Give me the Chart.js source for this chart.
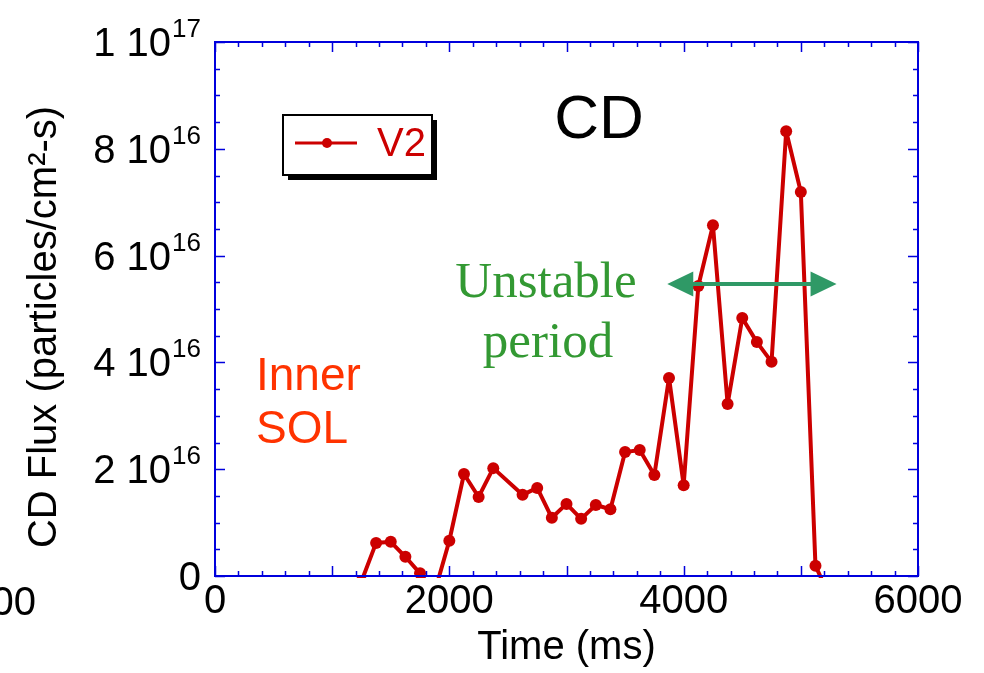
<!DOCTYPE html>
<html>
<head>
<meta charset="utf-8">
<script src="https://cdn.jsdelivr.net/npm/chart.js@4/dist/chart.umd.min.js"></script>
<style>
  html, body { margin: 0; padding: 0; background: #fff; }
  #wrap { width: 984px; height: 673px; }
</style>
</head>
<body>
<div id="wrap"><canvas id="chart" width="984" height="673"></canvas></div>
<script>
// ---- data ----
const timeMs = [1250, 1375, 1500, 1625, 1750, 1875, 2000, 2125, 2250, 2375,
  2625, 2750, 2875, 3000, 3125, 3250, 3375, 3500, 3625, 3750,
  3875, 4000, 4125, 4250, 4375, 4500, 4625, 4750, 4875, 5000, 5125, 5250];
const fluxV2 = [-1.0e15, 6.2e15, 6.4e15, 3.6e15, 0.5e15, -3.0e15, 6.6e15, 19.1e15, 14.8e15, 20.2e15,
  15.2e15, 16.5e15, 10.9e15, 13.5e15, 10.7e15, 13.3e15, 12.5e15, 23.2e15, 23.6e15, 18.9e15,
  37.1e15, 17.0e15, 54.3e15, 65.7e15, 32.2e15, 48.3e15, 43.8e15, 40.1e15, 83.3e15, 71.9e15, 1.9e15, -4.0e15];

const xTicks = [0, 2000, 4000, 6000];
const yTickValues = [0, 2e16, 4e16, 6e16, 8e16, 1e17];
const yTickMantissa = ['0', '2', '4', '6', '8', '1'];
const yTickExponent = ['', '16', '16', '16', '16', '17'];

const seriesLabel = 'V2';
const xTitle = 'Time (ms)';
const yTitle = 'CD Flux (particles/cm²-s)';
const panelTitle = 'CD';
const unstableLines = ['Unstable', 'period'];
const regionLines = ['Inner', 'SOL'];
const arrowFrom = 3860, arrowTo = 5305, arrowLevel = 5.47e16;

const RED = '#cc0000';
const BLUE = '#0000dd';
const SANS = '"Liberation Sans", Arial, Helvetica, sans-serif';
const SERIF = '"Liberation Serif", "Times New Roman", serif';

const points = timeMs.map((t, i) => ({ x: t, y: fluxV2[i] }));

const decor = {
  id: 'decor',
  afterDraw(chart) {
    const { ctx, chartArea: a, scales } = chart;
    const xs = scales.x, ys = scales.y;
    ctx.save();

    // inward ticks on all four sides
    ctx.strokeStyle = BLUE;
    ctx.lineWidth = 1.5;
    ctx.beginPath();
    for (let v = 0; v <= 6000; v += 200) {
      const px = Math.round(xs.getPixelForValue(v)) + 0.5;
      const len = v % 1000 === 0 ? 10 : 5;
      ctx.moveTo(px, a.bottom); ctx.lineTo(px, a.bottom - len);
      ctx.moveTo(px, a.top); ctx.lineTo(px, a.top + len);
    }
    for (let k = 0; k <= 20; k++) {
      const v = k * 5e15;
      const py = Math.round(ys.getPixelForValue(v)) + 0.5;
      const len = k % 4 === 0 ? 10 : 5;
      ctx.moveTo(a.left, py); ctx.lineTo(a.left + len, py);
      ctx.moveTo(a.right, py); ctx.lineTo(a.right - len, py);
    }
    ctx.stroke();

    // frame
    ctx.lineWidth = 2;
    ctx.strokeRect(a.left, a.top, a.right - a.left, a.bottom - a.top);

    // y tick labels with superscript exponents
    ctx.fillStyle = '#000';
    ctx.textBaseline = 'alphabetic';
    yTickValues.forEach((v, i) => {
      const py = ys.getPixelForValue(v);
      const right = a.left - 14;
      ctx.font = '26px ' + SANS;
      const ew = yTickExponent[i] ? ctx.measureText(yTickExponent[i]).width : 0;
      ctx.textAlign = 'right';
      if (yTickExponent[i]) ctx.fillText(yTickExponent[i], right, py - 5);
      ctx.font = '40px ' + SANS;
      const base = yTickExponent[i] ? yTickMantissa[i] + ' 10' : yTickMantissa[i];
      ctx.fillText(base, right - ew - (ew ? 1 : 0), py + 14);
    });

    // leftover label at the left edge
    ctx.font = '40px ' + SANS;
    ctx.textAlign = 'right';
    ctx.fillText('00', 36, 615);

    // axis titles
    ctx.textAlign = 'center';
    ctx.textBaseline = 'middle';
    ctx.font = '40px ' + SANS;
    ctx.fillText(xTitle, (a.left + a.right) / 2, 648);
    ctx.save();
    ctx.translate(45, 327);
    ctx.rotate(-Math.PI / 2);
    ctx.fillText(yTitle, 0, 0);
    ctx.restore();

    // panel label
    ctx.font = '62px ' + SANS;
    ctx.fillText(panelTitle, 599, 121);

    // unstable period annotation
    ctx.fillStyle = '#339933';
    ctx.font = '51px ' + SERIF;
    ctx.textBaseline = 'alphabetic';
    ctx.fillText(unstableLines[0], 546, 297);
    ctx.fillText(unstableLines[1], 548, 357);

    // double arrow
    const x0 = xs.getPixelForValue(arrowFrom), x1 = xs.getPixelForValue(arrowTo);
    const ay = ys.getPixelForValue(arrowLevel);
    ctx.strokeStyle = '#2f9966';
    ctx.fillStyle = '#2f9966';
    ctx.lineWidth = 4;
    ctx.beginPath();
    ctx.moveTo(x0 + 20, ay); ctx.lineTo(x1 - 20, ay);
    ctx.stroke();
    ctx.beginPath();
    ctx.moveTo(x0, ay); ctx.lineTo(x0 + 26, ay - 12.5); ctx.lineTo(x0 + 26, ay + 12.5); ctx.closePath();
    ctx.moveTo(x1, ay); ctx.lineTo(x1 - 26, ay - 12.5); ctx.lineTo(x1 - 26, ay + 12.5); ctx.closePath();
    ctx.fill();

    // region label
    ctx.fillStyle = '#ff3300';
    ctx.font = '46px ' + SANS;
    ctx.textAlign = 'left';
    ctx.fillText(regionLines[0], 256, 390);
    ctx.fillText(regionLines[1], 256, 443);

    // legend box with shadow
    const lx = 283, ly = 115, lw = 149, lh = 60;
    ctx.fillStyle = '#000';
    ctx.fillRect(lx + 5, ly + 5, lw, lh);
    ctx.fillStyle = '#fff';
    ctx.fillRect(lx, ly, lw, lh);
    ctx.strokeStyle = '#000';
    ctx.lineWidth = 2;
    ctx.strokeRect(lx, ly, lw, lh);
    ctx.strokeStyle = RED;
    ctx.lineWidth = 3;
    ctx.beginPath();
    ctx.moveTo(295, 143); ctx.lineTo(357, 143);
    ctx.stroke();
    ctx.fillStyle = RED;
    ctx.beginPath();
    ctx.arc(327, 143, 5, 0, Math.PI * 2);
    ctx.fill();
    ctx.font = '40px ' + SANS;
    ctx.textAlign = 'left';
    ctx.textBaseline = 'middle';
    ctx.fillText(chart.data.datasets[0].label, 377, 145);

    ctx.restore();
  }
};

new Chart(document.getElementById('chart'), {
  type: 'line',
  data: {
    datasets: [{
      label: seriesLabel,
      data: points,
      borderColor: RED,
      backgroundColor: RED,
      pointBackgroundColor: RED,
      pointBorderColor: RED,
      borderWidth: 4,
      borderJoinStyle: 'round',
      borderCapStyle: 'round',
      pointRadius: 6,
      pointBorderWidth: 0,
      tension: 0,
      clip: 2
    }]
  },
  options: {
    responsive: false,
    animation: false,
    events: [],
    layout: { padding: { left: 215, right: 66, top: 42, bottom: 0 } },
    plugins: { legend: { display: false }, tooltip: { enabled: false } },
    scales: {
      x: {
        type: 'linear',
        min: 0, max: 6000,
        afterFit(scale) { scale.height = 97; },
        afterBuildTicks(scale) { scale.ticks = xTicks.map(v => ({ value: v })); },
        border: { display: false },
        grid: { display: false, drawTicks: false },
        ticks: {
          color: '#000',
          font: { family: SANS, size: 40 },
          padding: 2,
          maxRotation: 0,
          autoSkip: false,
          callback: v => String(v)
        }
      },
      y: {
        type: 'linear',
        min: 0, max: 1e17,
        display: false
      }
    }
  },
  plugins: [decor]
});
</script>
</body>
</html>
